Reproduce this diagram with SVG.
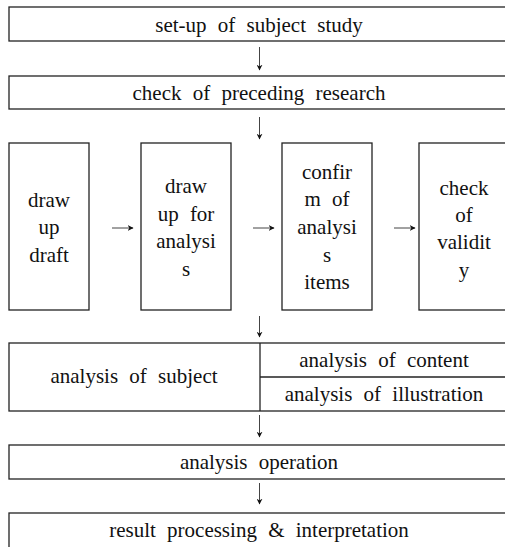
<svg xmlns="http://www.w3.org/2000/svg" width="505" height="547" viewBox="0 0 505 547">
<defs>
<marker id="ah" viewBox="0 0 10 10" refX="9" refY="5" markerWidth="6" markerHeight="6" markerUnits="userSpaceOnUse" orient="auto">
<path d="M0,0 L10,5 L0,10 L3,5 Z" fill="#111"/>
</marker>
<style>
.box{fill:#fff;stroke:#222;stroke-width:1.3}
.div{fill:none;stroke:#222;stroke-width:1.3}
.t{font-family:'Liberation Serif','Times New Roman',serif;font-size:21px;fill:#111;text-anchor:middle;word-spacing:6px}
.c{fill:none;stroke:#444;stroke-width:1;marker-end:url(#ah)}
</style>
</defs>
<rect width="505" height="547" fill="#fff"/>
<g id="connectors">
<line class="c" x1="259.5" y1="47" x2="259.5" y2="70"/>
<line class="c" x1="259.5" y1="117" x2="259.5" y2="139"/>
<line class="c" x1="112" y1="228" x2="133" y2="228"/>
<line class="c" x1="253" y1="228" x2="274" y2="228"/>
<line class="c" x1="394" y1="228" x2="415" y2="228"/>
<line class="c" x1="259.5" y1="316" x2="259.5" y2="337"/>
<line class="c" x1="259.5" y1="415" x2="259.5" y2="437"/>
<line class="c" x1="259.5" y1="483" x2="259.5" y2="504"/>
</g>
<g id="n1"><rect class="box" x="9" y="7" width="500" height="34"/><text class="t" x="259" y="32">set-up of subject study</text></g>
<g id="n2"><rect class="box" x="9" y="76" width="500" height="33"/><text class="t" x="259" y="100">check of preceding research</text></g>
<g id="n3"><rect class="box" x="9" y="143" width="80" height="167"/>
<text class="t" x="49" y="207">draw</text><text class="t" x="49" y="234">up</text><text class="t" x="49" y="262">draft</text></g>
<g id="n4"><rect class="box" x="141" y="143" width="90" height="167"/>
<text class="t" x="186" y="193">draw</text><text class="t" x="186" y="221">up for</text><text class="t" x="186" y="248">analysi</text><text class="t" x="186" y="276">s</text></g>
<g id="n5"><rect class="box" x="282" y="143" width="90" height="167"/>
<text class="t" x="327" y="179">confir</text><text class="t" x="327" y="206">m of</text><text class="t" x="327" y="234">analysi</text><text class="t" x="327" y="262">s</text><text class="t" x="327" y="289">items</text></g>
<g id="n6"><rect class="box" x="419" y="143" width="90" height="167"/>
<text class="t" x="464" y="195">check</text><text class="t" x="464" y="222">of</text><text class="t" x="464" y="249">validit</text><text class="t" x="464" y="277">y</text></g>
<g id="n7"><rect class="box" x="9" y="343" width="500" height="68"/>
<line class="div" x1="260" y1="343" x2="260" y2="411"/>
<line class="div" x1="260" y1="377" x2="509" y2="377"/>
<text class="t" x="134" y="383">analysis of subject</text>
<text class="t" x="384" y="367">analysis of content</text>
<text class="t" x="384" y="401">analysis of illustration</text></g>
<g id="n8"><rect class="box" x="9" y="445" width="500" height="34"/><text class="t" x="259" y="469">analysis operation</text></g>
<g id="n9"><rect class="box" x="9" y="513" width="500" height="40"/><text class="t" x="259" y="537">result processing &amp; interpretation</text></g>
</svg>
